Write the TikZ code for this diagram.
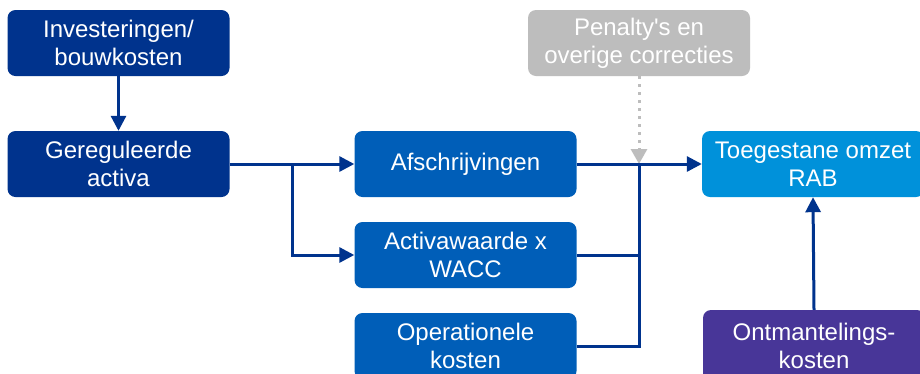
\documentclass[tikz,border=0pt]{standalone}
\usepackage{fontspec}
\setmainfont{Liberation Sans}
\newfontfamily\plainsans{Liberation Sans}[Ligatures=TeXOff]
\usetikzlibrary{arrows.meta}
\definecolor{kdark}{HTML}{00338D}
\definecolor{kmed}{HTML}{005EB8}
\definecolor{klight}{HTML}{0091DA}
\definecolor{kpurple}{HTML}{483698}
\definecolor{kgray}{HTML}{BDBDBD}
\tikzset{
  box/.style={rectangle, rounded corners=8pt, minimum width=222pt, minimum height=66pt,
    inner sep=2pt, align=center, text=white, font=\fontsize{24}{28}\selectfont},
  conn/.style={draw=kdark, line width=3pt},
  arr/.style={conn, -{Triangle[length=15pt,width=15pt]}},
  dotarr/.style={draw=kgray, line width=3pt, dash pattern=on 3pt off 5pt,
    -{Triangle[length=15pt,width=16pt,fill=kgray]}}
}
\begin{document}
\begin{tikzpicture}[x=1pt,y=-1pt]
\clip (0,0) rectangle (920,373);
\useasboundingbox (0,0) rectangle (920,373);
\fill[white] (0,0) rectangle (920,373);
\node[box, fill=kdark] (inv) at (118.5,43) {Investeringen/\\bouwkosten};
\node[box, fill=kdark] (ger) at (118.5,164) {Gereguleerde\\activa};
\node[box, fill=kmed] (afs) at (465.5,164) {Afschrijvingen};
\node[box, fill=kmed] (act) at (465.5,255) {Activawaarde x\\WACC};
\node[box, fill=kmed] (ope) at (465.5,346) {Operationele\\kosten};
\node[box, fill=kgray, font=\plainsans\fontsize{24}{28}\selectfont] (pen) at (639,43) {Penalty's en\\overige correcties};
\node[box, fill=klight] (toe) at (813,164) {Toegestane omzet\\RAB};
\node[box, fill=kpurple, minimum height=72pt] (ont) at (814,346) {Ontmantelings-\\kosten};
\coordinate (j1) at (292,164);
\coordinate (j2) at (639,164);
\draw[dotarr] (pen.south) -- (j2);
\draw[arr] (inv.south) -- (ger.north);
\draw[arr] (ger.east) -- (afs.west);
\draw[arr] (j1) |- (act.west);
\draw[arr] (afs.east) -- (toe.west);
\draw[conn] (act.east) -| (j2);
\draw[conn] (ope.east) -| (j2);
\draw[arr] (ont.north) -- (toe.south);
\end{tikzpicture}
\end{document}
